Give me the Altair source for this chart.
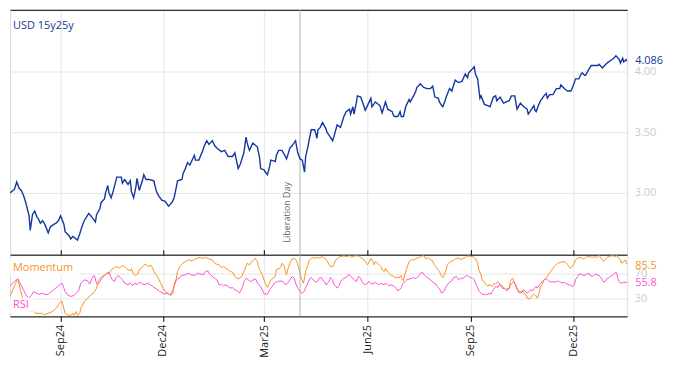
import altair as alt
import pandas as pd

START_DATE = "2024-07-18"
TITLE = "USD 15y25y"
EVENT_DATE = "2025-04-02"
EVENT_LABEL = "Liberation Day"
EVENT_LABEL_LEVEL = 2.59
TICK_DATES = ["2024-09-01", "2024-12-01", "2025-03-01", "2025-06-01", "2025-09-01", "2025-12-01"]
TOP_GRID = [3.0, 3.5, 4.0]
BOTTOM_GRID = [30, 70]

main_day = [0, 4, 6, 8, 10, 12, 14, 17, 18, 20, 22, 24, 25, 27, 29, 31, 34, 36, 39, 41,
            43, 45, 48, 49, 51, 53, 54, 56, 60, 62, 64, 66, 70, 72, 76, 77, 80, 81, 84, 85,
            87, 88, 90, 92, 95, 99, 100, 102, 105, 107, 108, 110, 112, 113, 115, 118, 119, 121, 124, 128,
            130, 132, 135, 138, 141, 144, 146, 148, 149, 153, 154, 156, 158, 160, 164, 165, 168, 171, 173, 175,
            177, 180, 182, 184, 188, 191, 194, 198, 200, 203, 205, 207, 208, 210, 211, 213, 216, 220, 222, 223,
            226, 228, 229, 231, 232, 236, 237, 239, 242, 245, 246, 249, 251, 254, 256, 258, 260, 261, 262, 263,
            265, 266, 268, 271, 272, 273, 274, 276, 278, 281, 282, 285, 287, 288, 291, 294, 296, 297, 299, 302,
            303, 305, 306, 308, 309, 312, 315, 316, 319, 321, 322, 325, 329, 331, 332, 334, 336, 340, 341, 342,
            345, 347, 348, 350, 352, 355, 356, 359, 361, 362, 364, 365, 368, 371, 374, 376, 378, 381, 382, 384,
            385, 387, 388, 391, 393, 396, 399, 402, 405, 407, 408, 411, 413, 414, 416, 417, 418, 419, 422, 425,
            427, 430, 432, 433, 436, 439, 444, 446, 449, 451, 454, 457, 460, 461, 464, 466, 467, 468, 470, 472,
            475, 477, 478, 480, 483, 486, 489, 490, 493, 496, 499, 500, 502, 503, 506, 508, 509, 511, 512, 515,
            517, 520, 523, 524, 527, 529, 531, 534, 537, 539, 542, 543, 545, 546, 548, 549]
main_val = [3.00, 3.03, 3.09, 3.04, 3.02, 2.98, 2.92, 2.81, 2.69, 2.82, 2.85, 2.80, 2.79, 2.75, 2.77, 2.74, 2.67, 2.72, 2.74, 2.75,
            2.77, 2.81, 2.74, 2.68, 2.66, 2.64, 2.62, 2.64, 2.61, 2.66, 2.72, 2.77, 2.83, 2.81, 2.76, 2.82, 2.87, 2.92, 2.95, 3.00,
            3.06, 3.00, 2.96, 3.02, 3.13, 3.13, 3.08, 3.11, 3.07, 3.10, 3.01, 2.96, 3.05, 3.12, 3.02, 3.11, 3.15, 3.11, 3.11, 3.10,
            3.02, 2.98, 2.94, 2.93, 2.89, 2.92, 2.96, 3.05, 3.10, 3.11, 3.16, 3.20, 3.25, 3.23, 3.31, 3.27, 3.27, 3.34, 3.39, 3.43,
            3.40, 3.43, 3.39, 3.37, 3.34, 3.35, 3.30, 3.30, 3.33, 3.20, 3.24, 3.30, 3.33, 3.46, 3.41, 3.35, 3.41, 3.38, 3.29, 3.20,
            3.19, 3.16, 3.15, 3.22, 3.27, 3.26, 3.31, 3.35, 3.35, 3.30, 3.28, 3.37, 3.39, 3.43, 3.33, 3.28, 3.27, 3.22, 3.17, 3.30,
            3.38, 3.43, 3.52, 3.52, 3.49, 3.45, 3.52, 3.54, 3.58, 3.53, 3.50, 3.46, 3.43, 3.46, 3.56, 3.54, 3.60, 3.63, 3.67, 3.69,
            3.65, 3.71, 3.65, 3.74, 3.80, 3.79, 3.71, 3.68, 3.74, 3.78, 3.71, 3.75, 3.72, 3.66, 3.69, 3.75, 3.69, 3.67, 3.64, 3.63,
            3.63, 3.67, 3.63, 3.63, 3.71, 3.77, 3.75, 3.80, 3.84, 3.87, 3.89, 3.90, 3.87, 3.86, 3.86, 3.88, 3.79, 3.78, 3.75, 3.72,
            3.71, 3.76, 3.79, 3.86, 3.84, 3.93, 3.91, 3.92, 3.98, 3.95, 3.99, 4.02, 4.04, 3.98, 3.94, 3.86, 3.78, 3.80, 3.73, 3.72,
            3.71, 3.79, 3.80, 3.76, 3.79, 3.74, 3.76, 3.80, 3.80, 3.69, 3.74, 3.71, 3.69, 3.65, 3.69, 3.72, 3.68, 3.67, 3.72, 3.76,
            3.80, 3.82, 3.78, 3.81, 3.81, 3.86, 3.86, 3.89, 3.86, 3.84, 3.84, 3.86, 3.91, 3.94, 3.94, 3.98, 3.99, 3.97, 3.97, 4.02,
            4.05, 4.05, 4.05, 4.06, 4.03, 4.05, 4.07, 4.09, 4.11, 4.13, 4.10, 4.07, 4.11, 4.08, 4.10, 4.086]

mom_day = [0, 5, 7, 9, 12, 14, 17, 20, 23, 28, 31, 34, 38, 41, 44, 46, 47, 49, 51, 54,
           56, 57, 59, 60, 62, 63, 66, 69, 72, 75, 77, 78, 80, 82, 85, 87, 88, 90, 93, 95,
           97, 99, 101, 103, 105, 107, 108, 110, 112, 114, 115, 117, 118, 120, 122, 124, 125, 127, 128, 130,
           132, 134, 136, 138, 140, 142, 143, 145, 146, 148, 149, 151, 153, 156, 159, 162, 165, 168, 171, 174,
           177, 180, 182, 184, 186, 188, 190, 192, 194, 196, 198, 200, 202, 204, 206, 208, 210, 211, 213, 215,
           217, 218, 220, 221, 223, 225, 227, 229, 230, 232, 234, 236, 237, 240, 241, 242, 244, 245, 246, 247,
           249, 251, 253, 255, 257, 258, 259, 261, 262, 263, 265, 266, 268, 269, 271, 273, 275, 277, 279, 281,
           282, 284, 285, 287, 288, 290, 292, 294, 297, 300, 302, 304, 305, 308, 309, 310, 312, 314, 316, 318,
           319, 321, 322, 324, 325, 327, 328, 330, 331, 333, 334, 336, 337, 339, 342, 343, 345, 346, 348, 349,
           350, 351, 353, 355, 357, 359, 362, 364, 366, 368, 370, 372, 374, 376, 377, 379, 380, 382, 383, 385,
           386, 388, 389, 392, 394, 396, 397, 400, 401, 403, 405, 406, 408, 410, 411, 413, 414, 416, 417, 419,
           420, 422, 423, 425, 426, 428, 429, 431, 432, 434, 435, 437, 438, 440, 441, 442, 444, 445, 447, 448,
           450, 451, 453, 454, 456, 457, 459, 460, 462, 463, 465, 466, 468, 469, 471, 472, 474, 475, 477, 478,
           479, 481, 483, 485, 487, 490, 492, 494, 496, 497, 499, 500, 502, 503, 505, 508, 510, 512, 513, 516,
           518, 519, 522, 524, 525, 527, 528, 530, 531, 533, 536, 538, 540, 541, 543, 544, 546, 547, 549]
mom_val = [35, 55, 62, 47, 26, 14, 10, 11, 7, 7, 4.7, 7, 10, 15, 23, 27, 20.7, 7, 4.7, 3.6,
           7, 3.6, 10, 3.5, 7, 15, 26, 31, 36.7, 41, 47.3, 55.3, 63.3, 66, 68.7, 71.3, 69.7, 76.7, 80.4, 82,
           79.3, 82, 83.6, 79.3, 76.7, 75, 78.3, 69.7, 67.6, 71.3, 76.7, 79.3, 82, 85.7, 83.6, 82, 84.7, 79.3, 74, 68.7,
           63.3, 55.3, 47.3, 42, 39.3, 36.7, 35.6, 39.3, 52.7, 63.3, 74, 82, 85.7, 90, 92.7, 91, 94.3, 96.4, 95.3, 96.4,
           94.3, 92.7, 87.3, 85.7, 84.7, 80.4, 82, 79.3, 76.7, 74, 73, 66, 63.3, 62.3, 66, 74, 82, 87.3, 84.7, 90,
           92.7, 95.3, 90, 82, 74, 66, 55.3, 48.4, 52.7, 60.7, 63.3, 66, 76.7, 79.3, 82, 87.3, 82, 74, 68.7, 76.7,
           87.3, 94.3, 95.3, 91, 79.3, 71.3, 63.3, 55.3, 63.3, 74, 84.7, 91, 95.3, 96.4, 95.3, 96.4, 95.3, 98, 96.4, 94.3,
           91, 84.7, 82, 82, 85.7, 92.7, 96.4, 98, 99, 98, 99.6, 96.4, 98, 99.6, 98, 99.6, 96.4, 94.3, 90, 84.7,
           87.3, 95.3, 92.7, 84.7, 90, 87.3, 85.7, 82, 76.7, 74, 79.3, 73, 71.3, 67.6, 66, 63.3, 66, 63.3, 67.6, 60.7,
           59.1, 68.7, 79.3, 90, 92.7, 92.7, 95.3, 96.4, 98, 99.6, 94.3, 96.4, 92.7, 91, 85.7, 82, 78.3, 74, 69.7, 64.4,
           67.6, 76.7, 84.7, 90, 91, 94.3, 95.3, 95.3, 92.7, 95.3, 96.4, 98, 99, 98, 98.5, 96.4, 94.3, 87.3, 76.7, 68.7,
           60.7, 57, 53.7, 50, 52.7, 51.6, 50, 55.3, 53.7, 58, 55.3, 52.7, 50, 47.3, 44.7, 43, 46.3, 58, 63.3, 59.1,
           50, 44.7, 39.3, 42, 43, 39.3, 36.7, 31.3, 30.3, 31.3, 36.7, 37.7, 34, 31.3, 42, 50, 55.3, 60.7, 63.3, 66,
           69.7, 74, 79.3, 83.6, 87.3, 88.9, 90, 88.9, 85.7, 82, 79.3, 82, 87.3, 92.7, 95.3, 96.4, 94.3, 96.4, 97.5, 98,
           96.4, 98, 96.4, 99.6, 98, 92.7, 90, 94.3, 96.4, 98, 99.6, 98, 99.6, 96.4, 92.7, 87.3, 90, 92.7, 85.5]

rsi_day = [0, 4, 7, 9, 12, 14, 17, 19, 21, 23, 26, 29, 32, 34, 37, 40, 43, 46, 47, 49,
           51, 54, 57, 59, 61, 63, 66, 69, 71, 73, 75, 77, 78, 80, 82, 84, 86, 88, 89, 91,
           93, 94, 96, 98, 100, 102, 105, 107, 109, 111, 113, 115, 117, 119, 121, 122, 125, 127, 130, 133,
           136, 138, 140, 142, 143, 145, 147, 148, 151, 153, 156, 159, 161, 164, 167, 170, 172, 174, 176, 177,
           179, 182, 184, 186, 188, 190, 192, 194, 196, 198, 200, 203, 204, 205, 207, 208, 210, 212, 214, 216,
           217, 219, 220, 223, 225, 226, 229, 230, 232, 234, 235, 237, 239, 240, 242, 244, 245, 247, 249, 251,
           253, 254, 256, 258, 260, 262, 263, 265, 266, 268, 269, 271, 272, 274, 275, 277, 278, 280, 281, 282,
           284, 285, 287, 288, 290, 291, 293, 294, 296, 297, 299, 300, 302, 303, 305, 306, 308, 309, 310, 312,
           313, 315, 316, 318, 319, 321, 322, 324, 325, 327, 328, 330, 331, 333, 334, 336, 337, 339, 342, 344,
           345, 346, 348, 349, 350, 352, 353, 356, 358, 359, 361, 362, 364, 365, 367, 368, 370, 372, 374, 376,
           377, 379, 380, 382, 384, 386, 387, 389, 391, 393, 394, 397, 398, 399, 401, 402, 404, 405, 407, 408,
           410, 411, 413, 414, 416, 417, 419, 420, 422, 423, 425, 426, 428, 429, 431, 432, 434, 435, 437, 438,
           440, 441, 442, 444, 445, 447, 448, 450, 451, 453, 454, 456, 457, 459, 460, 462, 463, 465, 466, 468,
           469, 471, 472, 474, 475, 477, 478, 479, 481, 482, 484, 485, 487, 488, 490, 491, 493, 494, 496, 497,
           499, 500, 502, 503, 505, 506, 508, 509, 510, 512, 513, 515, 516, 518, 519, 521, 522, 524, 525, 527,
           528, 530, 531, 533, 534, 536, 537, 539, 540, 541, 543, 544, 546, 547, 549]
rsi_val = [50, 58, 62.3, 55.3, 44.7, 36.7, 31.3, 35.6, 42, 39.3, 37.7, 39.3, 36.7, 37.7, 42, 46.3, 51.1, 55.3, 52.7, 42,
           36.7, 34, 35.6, 39.3, 43, 55.3, 60.7, 59.1, 53.7, 63.3, 67.6, 55.3, 52.7, 58, 63.3, 67.6, 71.3, 72.9, 68.7, 60.7,
           58, 63.3, 67.6, 64.4, 60.7, 55.3, 52.7, 55.3, 51.1, 55.3, 52.7, 56.9, 55.3, 52.7, 53.7, 55.3, 52.7, 50, 46.3, 42,
           39.3, 37.7, 39.3, 36.7, 37.7, 44.7, 55.3, 60.7, 64.4, 67.6, 68.7, 71.3, 68.7, 67.6, 71.3, 69.7, 68.7, 74, 75, 71.3,
           67.6, 63.3, 60.7, 52.7, 53.7, 51.1, 52.7, 50, 47.3, 48.4, 44.7, 42, 39.3, 42, 50, 56.9, 63.3, 60.7, 58, 59.1,
           62.3, 60.7, 55.3, 50, 42, 38.3, 37.7, 40.9, 47.3, 51.6, 55.3, 56.9, 59.1, 58, 59.1, 55.3, 52.7, 55.3, 60.7, 66,
           63.3, 55.3, 47.3, 42, 39.3, 43, 48.4, 55.3, 60.7, 64.4, 62.3, 58, 56.9, 59.1, 63.3, 64.4, 60.7, 56.9, 52.7, 53.7,
           59.1, 64.4, 60.7, 53.7, 50, 47.3, 51.6, 58, 62.3, 63.3, 64.4, 67.6, 68.7, 66, 63.3, 60.7, 58, 62.3, 66, 63.3,
           58, 53.7, 52.7, 55.3, 58, 55.3, 53.7, 55.3, 56.9, 53.7, 52.7, 55.3, 53.7, 52.7, 55.3, 52.7, 51.1, 52.7, 50, 46.3,
           43, 44.7, 47.3, 52.7, 55.3, 59.1, 60.7, 62.3, 63.3, 64.4, 62.3, 64.4, 67.6, 71.3, 72.9, 69.7, 66, 63.3, 60.7, 58,
           55.3, 53.7, 50, 46.3, 39.3, 42, 46.3, 52.7, 56.9, 59.1, 63.3, 66, 63.3, 60.7, 63.3, 62.3, 64.4, 66, 67.6, 66,
           63.3, 64.4, 60.7, 55.3, 48.4, 43, 39.3, 37.7, 36.7, 37.7, 36.7, 39.3, 37.7, 42, 47.3, 50, 48.4, 52.7, 50, 47.3,
           46.3, 44.7, 46.3, 47.3, 52.7, 55.3, 58, 52.7, 47.3, 42, 39.3, 42, 44.7, 40.9, 39.3, 42, 44.7, 43, 46.3, 50,
           47.3, 52.7, 55.3, 58, 60.7, 62.3, 60.7, 59.1, 56.9, 58, 56.9, 56.9, 59.1, 58, 56.9, 55.3, 56.9, 55.3, 53.7, 52.7,
           51.6, 50, 52.7, 60.7, 66, 69.7, 69.7, 68.7, 67.6, 68.7, 69.7, 71.3, 67.6, 66, 67.6, 69.7, 68.7, 67.6, 66, 60.7,
           56.9, 59.1, 62.3, 64.4, 66, 67.6, 69.7, 72.9, 68.7, 60.7, 55.3, 55.3, 56.9, 56.9, 55.8]

BLUE = "#14379e"
ORANGE = "#f7931e"
MAGENTA = "#ff4fd6"
GRID = "#e6e6e6"
LIGHT = "#cccccc"
FONT = "Open Sans"
W, H1, H2 = 620, 246, 62

start = pd.Timestamp(START_DATE)


def to_df(days, vals):
    return pd.DataFrame({"date": start + pd.to_timedelta(days, unit="D"), "value": vals})


main_df = to_df(main_day, main_val)
mom_df = to_df(mom_day, mom_val)
rsi_df = to_df(rsi_day, rsi_val)
event_df = pd.DataFrame({"date": [pd.Timestamp(EVENT_DATE)], "value": [EVENT_LABEL_LEVEL], "label": [EVENT_LABEL]})


def dt(ts):
    return alt.DateTime(year=ts.year, month=ts.month, date=ts.day)


x_domain = [dt(main_df["date"].min()), dt(main_df["date"].max())]
tick_vals = [dt(pd.Timestamp(t)) for t in TICK_DATES]
xscale = alt.Scale(domain=x_domain)

# ---------------- top panel ----------------
x_top = alt.X("date:T", scale=xscale, title=None,
              axis=alt.Axis(orient="top", values=tick_vals, labels=False, ticks=False,
                            domain=True, domainColor="#000000", domainWidth=1,
                            grid=True, gridColor=GRID, gridWidth=1))
y_top = alt.Y("value:Q", title=None,
              scale=alt.Scale(domain=[2.49, 4.51], nice=False, zero=False),
              axis=alt.Axis(orient="right", values=TOP_GRID, format=".2f", labelColor=LIGHT,
                            labelFont=FONT, labelFontSize=11, labelPadding=7, ticks=False,
                            domain=False, grid=True, gridColor=GRID))

top_line = alt.Chart(main_df).mark_line(color=BLUE, strokeWidth=1.4, clip=True).encode(x=x_top, y=y_top)
top_rule = alt.Chart(event_df).mark_rule(color="#b0b0b0", strokeWidth=1).encode(x=x_top)
top_event_text = alt.Chart(event_df).mark_text(
    angle=270, align="left", baseline="alphabetic", dy=-10, fontSize=9, font=FONT, color="#666666"
).encode(x=x_top, y=y_top, text="label:N")
top_last = alt.Chart(main_df.tail(1)).mark_text(
    align="left", baseline="middle", dx=8, fontSize=11, font=FONT, color=BLUE
).encode(x=x_top, y=y_top, text=alt.Text("value:Q", format=".3f"))
top_title = alt.Chart(pd.DataFrame({"t": [TITLE]})).mark_text(
    align="left", baseline="middle", fontSize=11, font=FONT, color=BLUE
).encode(x=alt.value(3), y=alt.value(16), text="t:N")

top = alt.layer(top_rule, top_line, top_event_text, top_last, top_title).properties(width=W, height=H1)

# ---------------- bottom panel ----------------
x_bot = alt.X("date:T", scale=xscale, title=None,
              axis=alt.Axis(orient="bottom", values=tick_vals, format="%b%y", labelAngle=270,
                            labelColor="#222222", labelFont=FONT, labelFontSize=11, labelPadding=3,
                            ticks=True, tickColor="#000000", tickSize=5,
                            domain=True, domainColor="#000000",
                            grid=True, gridColor=GRID))
x_bot_top = alt.X("date:T", scale=xscale, title=None,
                  axis=alt.Axis(orient="top", values=tick_vals, labels=False,
                                ticks=True, tickColor="#000000", tickSize=5,
                                domain=True, domainColor="#000000", grid=False))
x_plain = alt.X("date:T", scale=xscale, title=None, axis=None)
y_bot = alt.Y("value:Q", title=None,
              scale=alt.Scale(domain=[2, 101], nice=False, zero=False),
              axis=alt.Axis(orient="right", values=BOTTOM_GRID, labelColor=LIGHT, labelFont=FONT,
                            labelFontSize=11, labelPadding=7, ticks=False, domain=False,
                            grid=True, gridColor=GRID))

rsi_line = alt.Chart(rsi_df).mark_line(color=MAGENTA, strokeWidth=1, clip=True).encode(x=x_bot, y=y_bot)
mom_line = alt.Chart(mom_df).mark_line(color=ORANGE, strokeWidth=1, clip=True).encode(x=x_plain, y=y_bot)
bot_rule = alt.Chart(event_df).mark_rule(color="#b0b0b0", strokeWidth=1).encode(x=x_bot_top)

box_df = pd.DataFrame({"k": [0]})
mom_box = alt.Chart(box_df).mark_rect(color="white", opacity=0.8).encode(
    x=alt.value(0), x2=alt.value(70), y=alt.value(4), y2=alt.value(21))
rsi_box = alt.Chart(box_df).mark_rect(color="white", opacity=0.8).encode(
    x=alt.value(0), x2=alt.value(24), y=alt.value(43), y2=alt.value(59))
mom_label = alt.Chart(pd.DataFrame({"t": ["Momentum"]})).mark_text(
    align="left", baseline="middle", fontSize=11, font=FONT, color=ORANGE
).encode(x=alt.value(3), y=alt.value(13), text="t:N")
rsi_label = alt.Chart(pd.DataFrame({"t": ["RSI"]})).mark_text(
    align="left", baseline="middle", fontSize=11, font=FONT, color=MAGENTA
).encode(x=alt.value(3), y=alt.value(51), text="t:N")
mom_last = alt.Chart(mom_df.tail(1)).mark_text(
    align="left", baseline="middle", dx=8, dy=2, fontSize=11, font=FONT, color=ORANGE
).encode(x=x_plain, y=y_bot, text=alt.Text("value:Q", format=".1f"))
rsi_last = alt.Chart(rsi_df.tail(1)).mark_text(
    align="left", baseline="middle", dx=8, fontSize=11, font=FONT, color=MAGENTA
).encode(x=x_plain, y=y_bot, text=alt.Text("value:Q", format=".1f"))

bottom = alt.layer(
    rsi_line, mom_line, bot_rule, mom_box, rsi_box, mom_label, rsi_label, mom_last, rsi_last
).resolve_axis(x="independent").properties(width=W, height=H2)

chart = alt.vconcat(top, bottom, spacing=0, bounds="flush").properties(
    padding={"left": 1, "top": 0, "right": 2, "bottom": 2}
).configure_view(stroke=None).configure(font=FONT)

chart.save("out.html", embed_options={"renderer": "svg", "actions": False})
